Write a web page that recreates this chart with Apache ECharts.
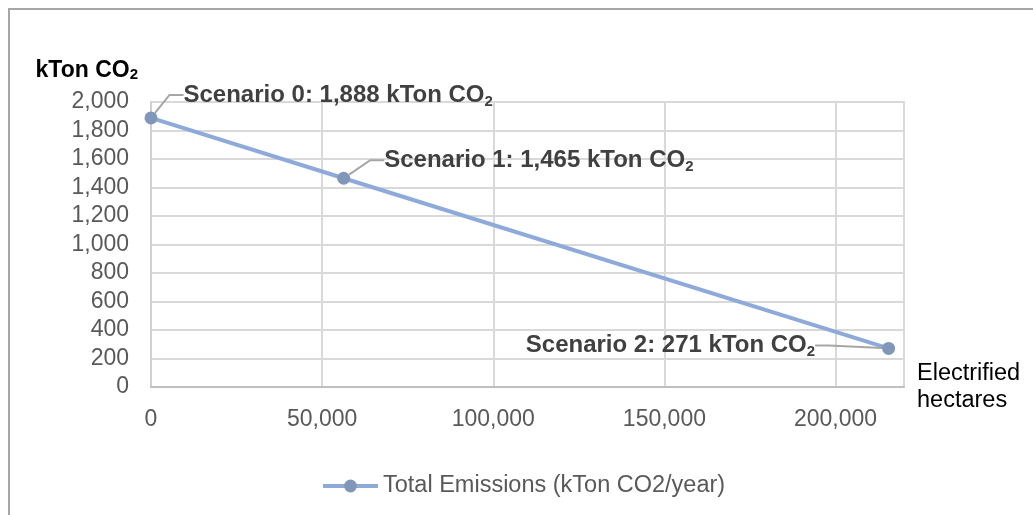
<!DOCTYPE html>
<html>
<head>
<meta charset="utf-8">
<script src="https://cdn.jsdelivr.net/npm/echarts@6/dist/echarts.min.js"></script>
<style>
    html, body { margin: 0; padding: 0; background: #fff; }
    #chart { width: 1033px; height: 515px; }
</style>
</head>
<body>
<div id="chart"></div>
<script>
    // data
    var scenarioNames = ['Scenario 0', 'Scenario 1', 'Scenario 2'];
    var hectares = [0, 56300, 215500];
    var emissions = [1888, 1465, 271];
    var seriesName = 'Total Emissions (kTon CO2/year)';

    var xTicks = { min: 0, max: 220000, interval: 50000 };
    var yTicks = { min: 0, max: 2000, interval: 200 };

    // where each data label sits relative to its point
    var labelPos = ['right', 'right', 'left'];
    var labelShift = [[21, -23], [29, -18], [-62, -3]];

    var fontFamily = '"Liberation Sans", Arial, sans-serif';

    function fmt (v) {
        return v.toLocaleString('en-US');
    }

    var points = [];
    for (var i = 0; i < hectares.length; i++) {
        points.push({
            value: [hectares[i], emissions[i]],
            name: scenarioNames[i],
            label: { position: labelPos[i] }
        });
    }

    var chart = echarts.init(document.getElementById('chart'));

    var option = {
        animation: false,
        textStyle: { fontFamily: fontFamily },
        graphic: [{
            type: 'polyline',
            shape: { points: [[9, 520], [9, 9], [1040, 9]] },
            style: { stroke: '#a6a6a6', lineWidth: 2, fill: null }
        }],
        grid: {
            left: 151,
            right: 129,
            top: 102,
            bottom: 128,
            show: true,
            borderColor: '#d9d9d9',
            borderWidth: 2
        },
        legend: {
            left: 316,
            top: 469,
            itemWidth: 55,
            itemHeight: 16,
            lineStyle: { width: 4 },
            textStyle: { fontSize: 23.5, color: '#595959', fontFamily: fontFamily },
            data: [seriesName]
        },
        xAxis: {
            type: 'value',
            min: xTicks.min,
            max: xTicks.max,
            interval: xTicks.interval,
            name: 'Electrified\nhectares',
            nameLocation: 'end',
            nameGap: 13,
            nameTextStyle: {
                fontSize: 23.5,
                color: '#000',
                align: 'left',
                verticalAlign: 'middle',
                lineHeight: 27,
                padding: [28, 0, 0, 0]
            },
            axisLine: { lineStyle: { color: '#bfbfbf', width: 2 } },
            axisTick: { show: false },
            axisLabel: {
                fontSize: 23,
                color: '#595959',
                margin: 21,
                showMaxLabel: false,
                formatter: fmt
            },
            splitLine: { lineStyle: { color: '#d9d9d9', width: 2 } }
        },
        yAxis: {
            type: 'value',
            min: yTicks.min,
            max: yTicks.max,
            interval: yTicks.interval,
            name: 'kTon CO{sub|2}',
            nameLocation: 'end',
            nameGap: 20,
            nameTextStyle: {
                fontSize: 23,
                fontWeight: 'bold',
                color: '#000',
                align: 'right',
                padding: [0, 13, 0, 0],
                rich: {
                    sub: { fontSize: 15, fontWeight: 'bold', color: '#000', verticalAlign: 'bottom', lineHeight: 15 }
                }
            },
            axisLine: { show: true, lineStyle: { color: '#d0d0d0', width: 2 } },
            axisTick: { show: false },
            axisLabel: {
                fontSize: 23,
                color: '#595959',
                margin: 22,
                formatter: fmt
            },
            splitLine: { lineStyle: { color: '#d9d9d9', width: 2 } }
        },
        series: [{
            name: seriesName,
            type: 'line',
            data: points,
            symbol: 'circle',
            symbolSize: 13,
            lineStyle: { color: '#8eaadb', width: 4 },
            itemStyle: { color: '#8097ba' },
            label: {
                show: true,
                fontSize: 24,
                fontWeight: 'bold',
                color: '#404040',
                lineHeight: 28,
                formatter: function (p) {
                    return p.name + ': ' + fmt(p.value[1]) + ' kTon CO{sub|2}';
                },
                rich: {
                    sub: { fontSize: 15, fontWeight: 'bold', color: '#404040', verticalAlign: 'bottom', lineHeight: 15 }
                }
            },
            labelLine: {
                show: true,
                length2: 14,
                lineStyle: { color: '#a6a6a6', width: 2 }
            },
            labelLayout: function (params) {
                var s = labelShift[params.dataIndex];
                return { dx: s[0], dy: s[1] };
            }
        }]
    };

    chart.setOption(option);

    window.addEventListener('resize', function () {
        chart.resize();
    });
</script>
</body>
</html>
